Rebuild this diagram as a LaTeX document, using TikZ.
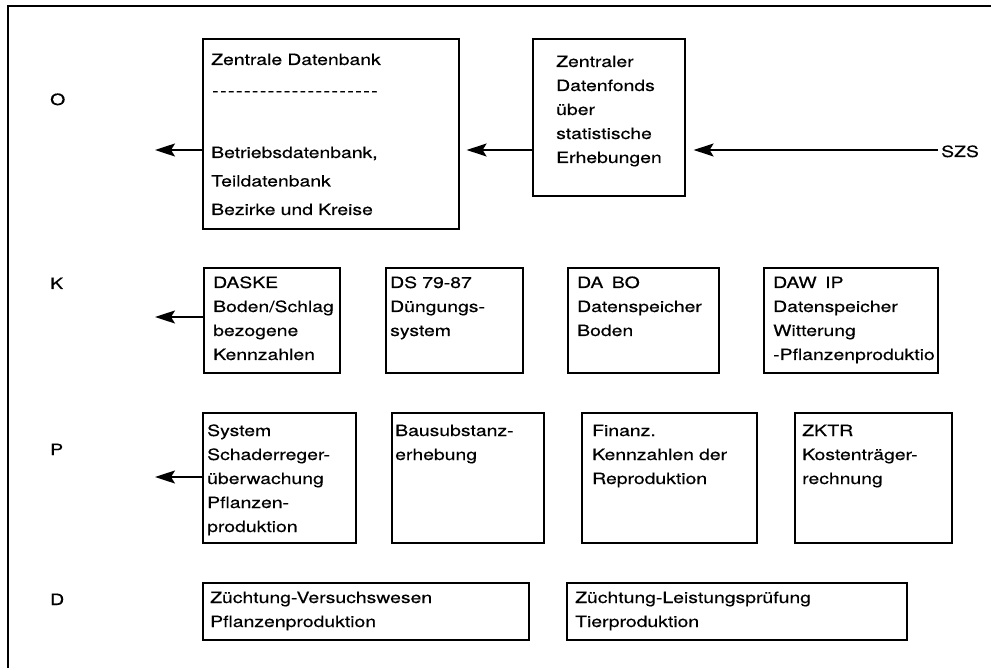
\documentclass[tikz,border=0pt]{standalone}
\usepackage{fontspec}
\setmainfont{TeX Gyre Heros}[FakeStretch=1.25,FakeBold=0.4]
\usetikzlibrary{arrows.meta}
% a row of spaced hyphens used as a separator line
\newcommand\hyphenrow{\foreach \i in {1,...,21}{\string-\kern1.5pt}}
\begin{document}
\begin{tikzpicture}[x=1pt,y=-1pt,
  box/.style={draw, line width=1.6pt, anchor=north west, inner sep=0pt},
  txt/.style={anchor=base west, inner sep=0pt, align=left, text width=380pt,
    font=\fontsize{15.5}{24}\selectfont},
  lvl/.style={anchor=base west, inner sep=0pt, font=\fontsize{15.5}{24}\selectfont},
  arr/.style={line width=1.5pt, -{Stealth[length=20pt,width=13pt,inset=4pt]}},
]
\useasboundingbox (0,0) rectangle (991,668);

% frame
\draw[line width=1.6pt] (8,668) -- (8,6) -- (991,6);

% level letters
\node[lvl] (lvO) at (50,105) {O};
\node[lvl] (lvK) at (50,289) {K};
\node[lvl] (lvP) at (50,455) {P};
\node[lvl] (lvD) at (50,605) {D};

% boxes
\node[box, minimum width=256, minimum height=190] (zdb) at (202,38) {};
\node[box, minimum width=152, minimum height=157] (zdf) at (532,38) {};
\node[box, minimum width=136, minimum height=105] (daske) at (203,267) {};
\node[box, minimum width=137, minimum height=105] (ds) at (385,267) {};
\node[box, minimum width=151, minimum height=105] (dabo) at (567,267) {};
\node[box, minimum width=174, minimum height=105] (dawip) at (763,267) {};
\node[box, minimum width=153, minimum height=130] (sys) at (202,412) {};
\node[box, minimum width=152, minimum height=130] (bau) at (391,412) {};
\node[box, minimum width=175, minimum height=130] (fin) at (581,412) {};
\node[box, minimum width=157, minimum height=130] (zktr) at (794,412) {};
\node[box, minimum width=326, minimum height=57] (zv) at (202,582) {};
\node[box, minimum width=340, minimum height=57] (zl) at (566,582) {};

% texts of the upper level
\node[txt] (zdbHead) at (211,65) {Zentrale Datenbank};
\node[txt] (zdbRule) at (212,96) {\hyphenrow};
\node[txt, font=\fontsize{15.5}{28.5}\selectfont] (zdbText) at (211,158)
  {Betriebsdatenbank,\\Teildatenbank\\Bezirke und Kreise};
\node[txt] (zdfText) at (556,67)
  {Zentraler\\Datenfonds\\über\\statistische\\Erhebungen};
\node[lvl] (szs) at (941,157) {SZS};

% texts of level K
\node[txt] (daskeText) at (213,288) {DASKE\\Boden/Schlag\\bezogene\\Kennzahlen};
\node[txt] (dsText) at (390,288) {DS 79-87\\Düngungs-\\system};
\node[txt] (daboText) at (577,288) {DA\hspace{0.55em}BO\\Datenspeicher\\Boden};
\node[txt] (dawipText) at (773,288) {DAW\hspace{0.55em}IP\\Datenspeicher\\Witterung\\-Pflanzenproduktio};

% texts of level P
\node[txt] (sysText) at (207,436) {System\\Schaderreger-\\überwachung\\Pflanzen-\\produktion};
\node[txt] (bauText) at (395,436) {Bausubstanz-\\erhebung};
\node[txt] (finText) at (592,436) {Finanz.\\Kennzahlen der\\Reproduktion};
\node[txt] (zktrText) at (802,436) {ZKTR\\Kostenträger-\\rechnung};

% texts of level D
\node[txt] (zvText) at (210,603) {Züchtung-Versuchswesen\\Pflanzenproduktion};
\node[txt] (zlText) at (575,603) {Züchtung-Leistungsprüfung\\Tierproduktion};

% connectors
\coordinate (oTip) at (155,150);
\coordinate (kTip) at (155,317);
\coordinate (pTip) at (155,477);
\draw[arr] (zdb.west |- oTip) -- (oTip);
\draw[arr, shorten >=7pt] (zdf.west |- oTip) -- (zdb.east |- oTip);
\draw[arr, shorten >=8pt] ([xshift=-3pt]szs.west |- oTip) -- (zdf.east |- oTip);
\draw[arr] (daske.west |- kTip) -- (kTip);
\draw[arr] (sys.west |- pTip) -- (pTip);
\end{tikzpicture}
\end{document}
